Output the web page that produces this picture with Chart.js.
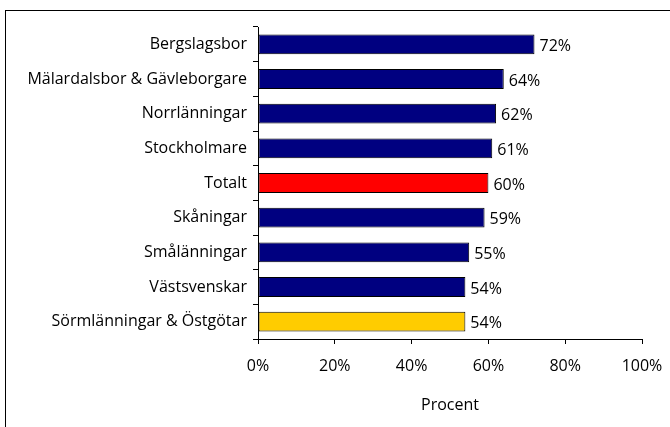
<!DOCTYPE html>
<html>
<head>
<meta charset="utf-8">
<script src="https://cdn.jsdelivr.net/npm/chart.js@4"></script>
<style>
    html, body { margin: 0; padding: 0; background: #fff; overflow: hidden; }
    #wrap { position: relative; width: 670px; height: 427px; overflow: hidden; }
    #frame { position: absolute; left: 5px; top: 10px; width: 800px; height: 600px; border: 1px solid #000; }
    canvas { position: absolute; left: 0; top: 0; }
</style>
</head>
<body>
<div id="wrap">
    <div id="frame"></div>
    <canvas id="chart" width="670" height="427"></canvas>
</div>
<script>
    const categories = [
        'Bergslagsbor',
        'Mälardalsbor & Gävleborgare',
        'Norrlänningar',
        'Stockholmare',
        'Totalt',
        'Skåningar',
        'Smålänningar',
        'Västsvenskar',
        'Sörmlänningar & Östgötar'
    ];
    const values = [72, 64, 62, 61, 60, 59, 55, 54, 54];
    const barColors = ['#000080', '#000080', '#000080', '#000080', '#FF0000', '#000080', '#000080', '#000080', '#FFCC00'];
    const axisTitle = 'Procent';

    const fontFamily = '"Open Sans", sans-serif';

    // value labels to the right of each bar
    const valueLabels = {
        id: 'valueLabels',
        afterDatasetsDraw(chart) {
            const ctx = chart.ctx;
            const meta = chart.getDatasetMeta(0);
            ctx.save();
            ctx.font = '16px ' + fontFamily;
            ctx.fillStyle = '#000';
            ctx.textAlign = 'left';
            ctx.textBaseline = 'middle';
            meta.data.forEach((bar, i) => {
                ctx.fillText(values[i] + '%', bar.x + 5, bar.y + 2);
            });
            ctx.restore();
        }
    };

    new Chart(document.getElementById('chart'), {
        type: 'bar',
        data: {
            labels: categories,
            datasets: [
                {
                    data: values,
                    backgroundColor: barColors,
                    borderColor: '#000',
                    borderWidth: 1,
                    borderSkipped: false,
                    categoryPercentage: 1,
                    barPercentage: 0.57
                }
            ]
        },
        options: {
            indexAxis: 'y',
            responsive: false,
            animation: false,
            devicePixelRatio: 1,
            layout: {
                padding: { top: 27, right: 28, bottom: 0, left: 0 }
            },
            plugins: {
                legend: { display: false },
                tooltip: { enabled: false }
            },
            scales: {
                x: {
                    min: 0,
                    max: 100,
                    afterFit(scale) {
                        scale.height = 88;
                        scale.paddingLeft = 0;
                        scale.paddingRight = 0;
                    },
                    ticks: {
                        stepSize: 20,
                        padding: 13,
                        color: '#000',
                        font: { family: fontFamily, size: 16 },
                        callback: (v) => v + '%'
                    },
                    grid: {
                        drawOnChartArea: false,
                        drawTicks: true,
                        tickLength: 5,
                        color: '#000'
                    },
                    border: { display: true, color: '#000', width: 1 },
                    title: {
                        display: true,
                        text: axisTitle,
                        color: '#000',
                        font: { family: fontFamily, size: 16 },
                        padding: { top: 0, bottom: 12 }
                    }
                },
                y: {
                    afterFit(scale) {
                        scale.width = 258;
                    },
                    ticks: {
                        padding: 6,
                        color: '#000',
                        font: { family: fontFamily, size: 16 }
                    },
                    grid: {
                        offset: true,
                        drawOnChartArea: false,
                        drawTicks: true,
                        tickLength: 5,
                        color: '#000'
                    },
                    border: { display: true, color: '#000', width: 1 }
                }
            }
        },
        plugins: [valueLabels]
    });
</script>
</body>
</html>
